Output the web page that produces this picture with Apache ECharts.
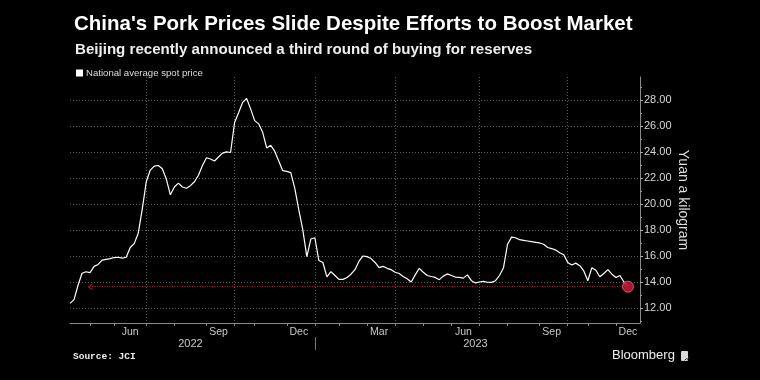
<!DOCTYPE html>
<html>
<head>
<meta charset="utf-8">
<script src="https://cdn.jsdelivr.net/npm/echarts@6/dist/echarts.min.js"></script>
<style>
html,body{margin:0;padding:0;background:#000;}
#chart{width:760px;height:380px;}
</style>
</head>
<body>
<div id="chart"></div>
<script>
// Sample dates (trading-day spaced, roughly every 3 trading days)
const dates = [
'2022-04-08','2022-04-13','2022-04-18','2022-04-21','2022-04-26','2022-05-05','2022-05-10','2022-05-13','2022-05-18','2022-05-23',
'2022-05-27','2022-06-01','2022-06-07','2022-06-10','2022-06-13','2022-06-16','2022-06-21','2022-06-24','2022-06-29','2022-07-01',
'2022-07-06','2022-07-11','2022-07-14','2022-07-19','2022-07-22','2022-07-27','2022-08-01','2022-08-04','2022-08-09','2022-08-12',
'2022-08-17','2022-08-22','2022-08-25','2022-08-30','2022-09-01','2022-09-06','2022-09-09','2022-09-15','2022-09-20','2022-09-23',
'2022-09-28','2022-10-10','2022-10-13','2022-10-18','2022-10-21','2022-10-26','2022-11-01','2022-11-04','2022-11-09','2022-11-14',
'2022-11-17','2022-11-22','2022-11-25','2022-11-29','2022-12-01','2022-12-06','2022-12-09','2022-12-14','2022-12-19','2022-12-22',
'2022-12-28','2023-01-03','2023-01-06','2023-01-11','2023-01-16','2023-01-19','2023-01-30','2023-02-01','2023-02-06','2023-02-09',
'2023-02-14','2023-02-17','2023-02-22','2023-02-27','2023-03-01','2023-03-06','2023-03-09','2023-03-14','2023-03-17','2023-03-22',
'2023-03-27','2023-04-03','2023-04-07','2023-04-12','2023-04-17','2023-04-20','2023-04-25','2023-04-28','2023-05-04','2023-05-09',
'2023-05-12','2023-05-17','2023-05-22','2023-05-25','2023-05-30','2023-06-01','2023-06-06','2023-06-09','2023-06-14','2023-06-19',
'2023-06-26','2023-06-29','2023-07-03','2023-07-06','2023-07-11','2023-07-14','2023-07-19','2023-07-24','2023-07-27','2023-08-01',
'2023-08-04','2023-08-09','2023-08-14','2023-08-17','2023-08-22','2023-08-25','2023-08-30','2023-09-01','2023-09-06','2023-09-11',
'2023-09-15','2023-09-20','2023-09-25','2023-09-28','2023-10-09','2023-10-12','2023-10-17','2023-10-20','2023-10-25','2023-11-01',
'2023-11-06','2023-11-09','2023-11-14','2023-11-17','2023-11-22','2023-11-27','2023-12-01','2023-12-06','2023-12-11','2023-12-14',
'2023-12-19','2023-12-22','2023-12-29'
];

// National average spot price, yuan a kilogram
const price = [
12.36, 12.65, 13.75, 14.67, 14.79, 14.72, 15.2, 15.35, 15.68, 15.74,
15.8, 15.88, 15.9, 15.83, 15.9, 16.65, 16.95, 17.75, 19.6, 21.7,
22.6, 22.9, 22.95, 22.7, 21.9, 20.7, 21.3, 21.6, 21.3, 21.2,
21.4, 21.7, 22.2, 22.95, 23.55, 23.45, 23.3, 23.6, 23.9, 24.0,
23.95, 26.25, 27.0, 27.8, 28.1, 27.3, 26.4, 26.15, 25.5, 24.3,
24.5, 24.05, 23.3, 22.55, 22.5, 22.4, 21.2, 19.55, 18.0, 15.95,
17.3, 17.4, 15.65, 15.5, 14.4, 14.8, 14.5, 14.2, 14.2, 14.35,
14.6, 14.95, 15.6, 16.0, 15.95, 15.8, 15.5, 15.1, 15.2, 15.05,
14.95, 14.75, 14.65, 14.42, 14.25, 14.0, 14.55, 15.05, 14.75, 14.5,
14.42, 14.35, 14.18, 14.45, 14.62, 14.5, 14.38, 14.36, 14.3, 14.55,
14.1, 13.93, 14.0, 14.05, 13.98, 13.97, 14.1, 14.5, 15.1, 16.9,
17.45, 17.4, 17.25, 17.2, 17.15, 17.1, 17.05, 17.0, 16.9, 16.65,
16.57, 16.45, 16.25, 16.1, 15.5, 15.3, 15.45, 15.25, 14.85, 14.1,
15.1, 14.9, 14.4, 14.65, 14.95, 14.6, 14.35, 14.5, 14.0, 13.64
];

const seriesName = 'National average spot price';
const tickLabelDates = ['2022-06-16','2022-09-15','2022-12-14','2023-03-14','2023-06-14','2023-09-15','2023-12-14'];
const tickLabels = ['Jun','Sep','Dec','Mar','Jun','Sep','Dec'];
const yearLabelDates = ['2022-08-17','2023-06-29'];
const yearLabels = ['2022','2023'];
const yTicks = [12,14,16,18,20,22,24,26,28];
const yMinorTicks = [11,13,15,17,19,21,23,25,27,29];
const arrowEndDate = '2022-05-05';

const monthStart = dates.map((d,i)=> i>0 && d.slice(5,7)!==dates[i-1].slice(5,7));
const quarterStart = dates.map((d,i)=> monthStart[i] && ['01','04','07','10'].indexOf(d.slice(5,7))>=0);
const yearStart = dates.map((d,i)=> i>0 && d.slice(0,4)!==dates[i-1].slice(0,4));
const lastIdx = price.length-1;
const lastPrice = price[lastIdx];

const FONT = "'Liberation Sans', Arial, sans-serif";
const chart = echarts.init(document.getElementById('chart'), null, {renderer:'canvas'});
chart.setOption({
  backgroundColor:'#000',
  animation:false,
  textStyle:{fontFamily:FONT},
  title:[
    {text:"China's Pork Prices Slide Despite Efforts to Boost Market", left:69, top:9,
     textStyle:{color:'#fff', fontSize:20.5, fontWeight:'bold', fontFamily:FONT}},
    {text:'Beijing recently announced a third round of buying for reserves', left:70, top:37,
     textStyle:{color:'#eee', fontSize:15.1, fontWeight:'bold', fontFamily:FONT}}
  ],
  legend:{data:[seriesName], left:71, top:63, icon:'rect', itemWidth:7, itemHeight:7, itemGap:10,
    textStyle:{color:'#ddd', fontSize:9.6, fontFamily:FONT, padding:[0,0,0,-2]}},
  grid:{left:70, right:120, top:77, bottom:57, containLabel:false},
  xAxis:[
    {type:'category', data:dates, boundaryGap:false,
     axisLine:{lineStyle:{color:'#8a8a8a', width:1}},
     axisTick:{interval:(i)=>monthStart[i], length:3, lineStyle:{color:'#8a8a8a'}},
     axisLabel:{interval:(i,v)=>tickLabelDates.indexOf(v)>=0,
       formatter:(v)=>tickLabels[tickLabelDates.indexOf(v)], color:'#c8c8c8', fontSize:10.5, margin:4, fontFamily:FONT},
     splitLine:{show:true, interval:(i)=>quarterStart[i], lineStyle:{color:'#5a5a5a', type:[1,2], width:1}}
    },
    {type:'category', data:dates, boundaryGap:false, position:'bottom', offset:14,
     axisLine:{show:false},
     axisTick:{interval:(i)=>yearStart[i], length:13, lineStyle:{color:'#777'}},
     axisLabel:{interval:(i,v)=>yearLabelDates.indexOf(v)>=0,
       formatter:(v)=>yearLabels[yearLabelDates.indexOf(v)], color:'#c8c8c8', fontSize:11, margin:1, fontFamily:FONT},
     splitLine:{show:false}
    }
  ],
  yAxis:[
    {type:'value', position:'right', min:10.85, max:29.75,
     name:'Yuan a kilogram', nameLocation:'middle', nameRotate:-90, nameGap:36, nameMoveOverlap:false,
     nameTextStyle:{color:'#ddd', fontSize:14, fontFamily:FONT},
     axisLine:{show:true, lineStyle:{color:'#8a8a8a'}},
     axisTick:{show:true, customValues:yTicks, length:3, lineStyle:{color:'#aaa'}},
     axisLabel:{customValues:yTicks, formatter:(v)=>v.toFixed(2), color:'#d6d6d6', fontSize:11, margin:4, fontFamily:FONT},
     splitLine:{show:true, lineStyle:{color:'#5a5a5a', type:[1,2], width:1}}
    },
    {type:'value', position:'right', min:10.85, max:29.75,
     axisLine:{show:false}, axisLabel:{show:false}, splitLine:{show:false},
     axisTick:{show:true, customValues:yMinorTicks, length:2, lineStyle:{color:'#999'}}
    }
  ],
  series:[{
    name:seriesName, type:'line', data:price, showSymbol:false, symbol:'none',
    lineStyle:{color:'#fff', width:1.2}, itemStyle:{color:'#fff'},
    markLine:{silent:true, symbol:['none','path://M0,10 L5,0 L10,10 L8.4,10 L5,3.2 L1.6,10 Z'], symbolSize:[7,5],
      label:{show:false}, emphasis:{disabled:true},
      lineStyle:{color:'#b0203a', type:[1,1.5], width:1},
      data:[[{coord:[dates[lastIdx], lastPrice]},{coord:[arrowEndDate, lastPrice]}]]},
    markPoint:{silent:true, symbol:'circle', symbolSize:11, label:{show:false},
      itemStyle:{color:'rgba(185,25,50,0.9)', borderColor:'#e0506a', borderWidth:1},
      data:[{coord:[dates[lastIdx], lastPrice]}]}
  }],
  graphic:[
    {type:'text', left:73, top:352, style:{text:'Source: JCI', fill:'#eee', font:"bold 9.5px 'Liberation Mono', monospace"}},
    {type:'text', left:612, top:349, style:{text:'Bloomberg', fill:'#eee', font:"13px 'Liberation Sans', Arial, sans-serif"}},
    {type:'rect', left:681, top:351, shape:{width:7, height:10, r:1}, style:{fill:'#d8d8d8'}},
    {type:'polyline', left:682, top:354, shape:{points:[[0,4],[2,2],[3,3],[5,0]]}, style:{stroke:'#222', lineWidth:1, fill:null}}
  ]
});
</script>
</body>
</html>
